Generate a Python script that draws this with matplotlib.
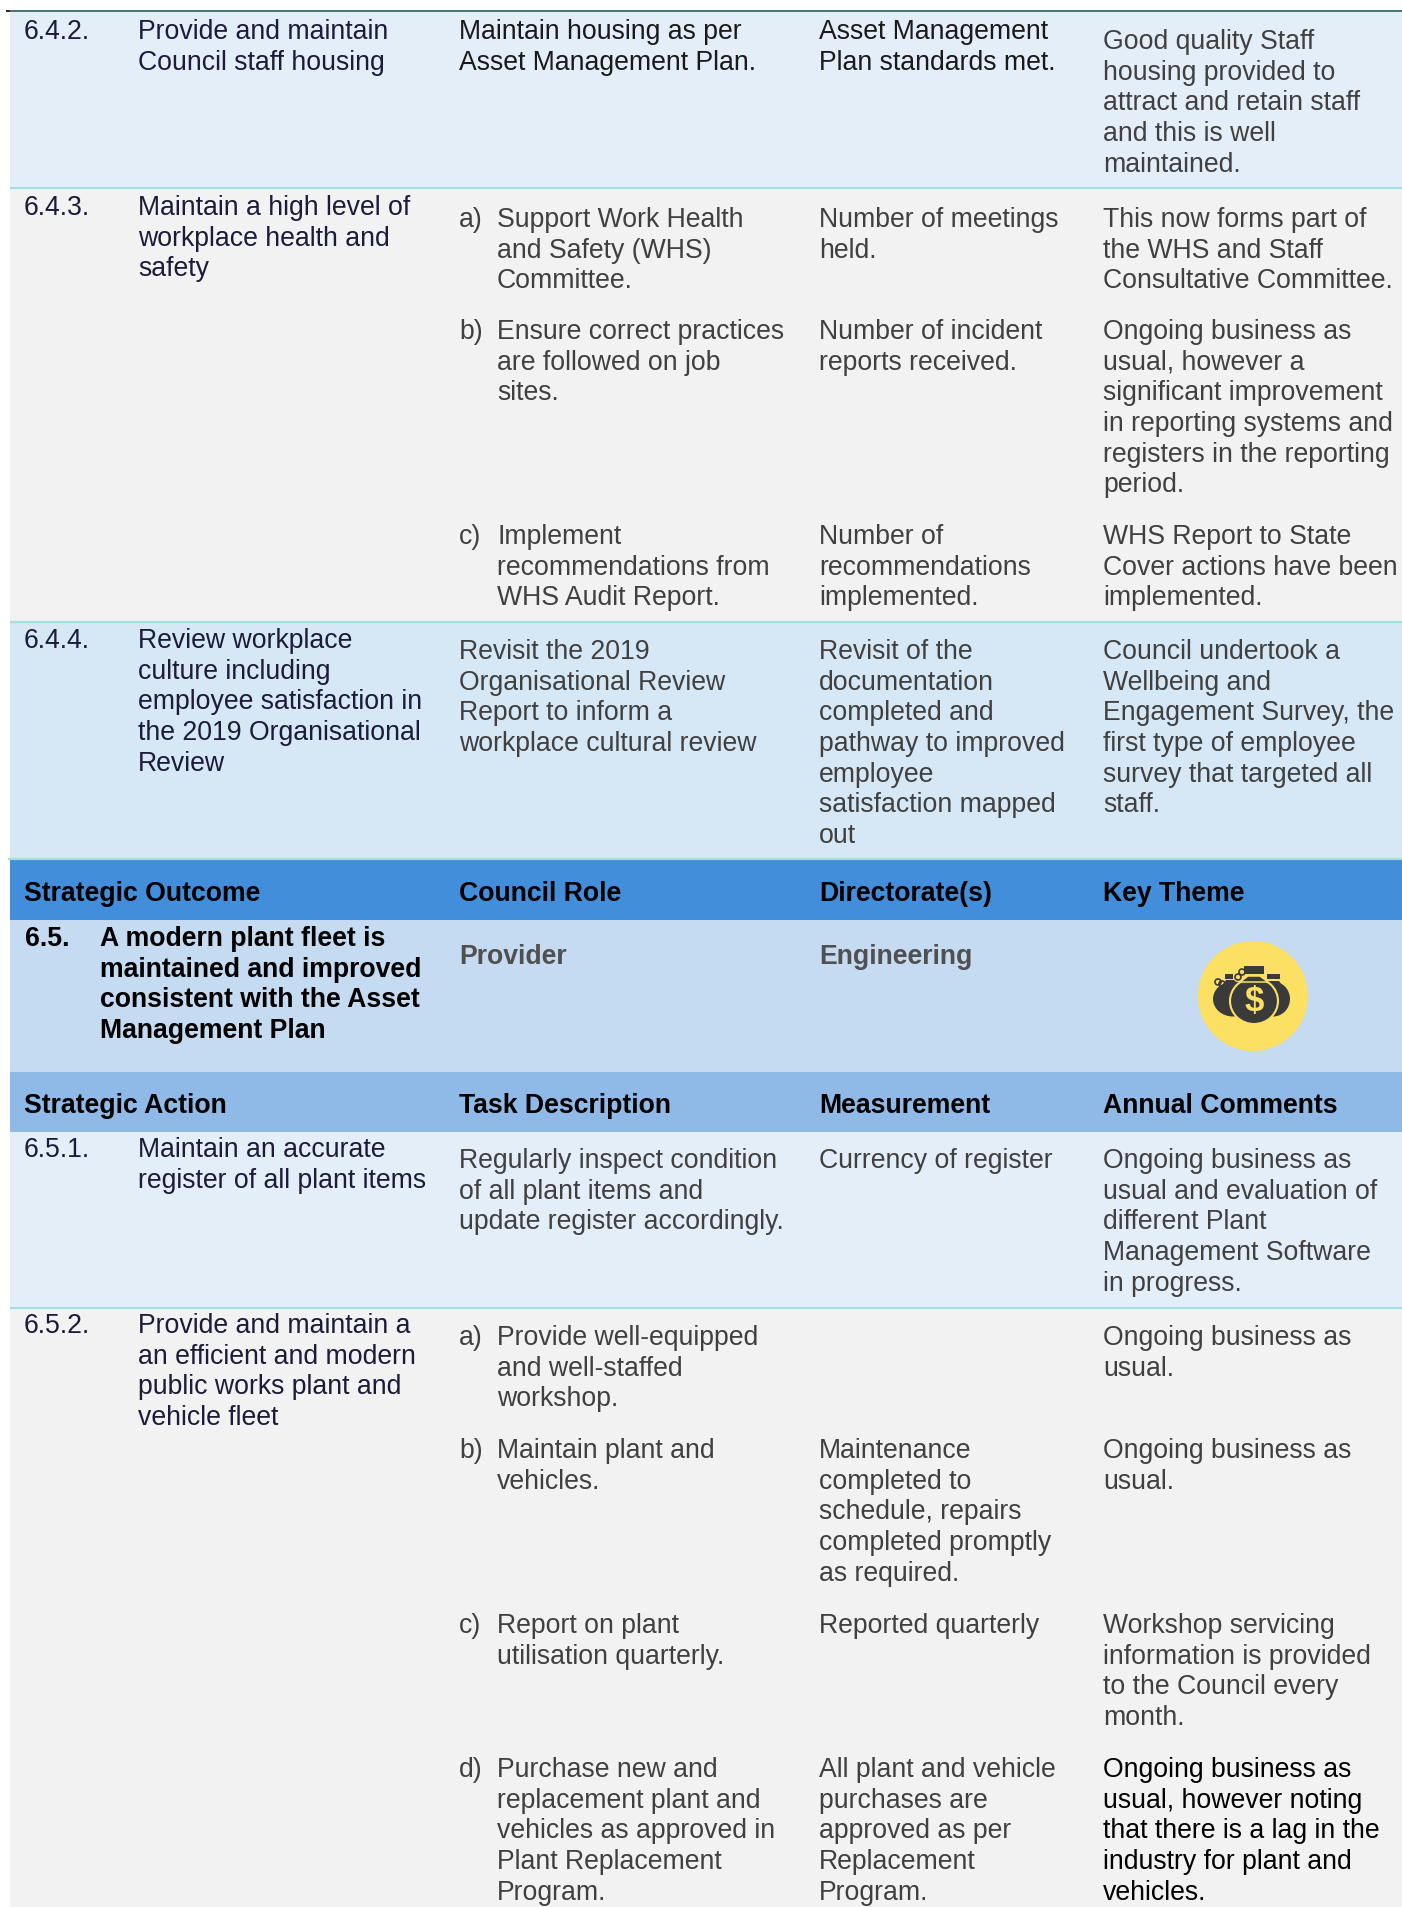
"""Council operational plan table page, redrawn as a figure."""
import matplotlib

matplotlib.use("Agg")

import matplotlib.pyplot as plt
from matplotlib.patches import Circle, Ellipse, Polygon, Rectangle

plt.rcParams["font.family"] = ["Liberation Sans", "DejaVu Sans"]

W, H = 1402, 1908
FS = 19.15
PITCH = 30.7

# background bands, top to bottom
band_edges = [13, 189, 623, 861, 921, 1073, 1133, 1309, 1908]
band_colors = ["#E3EEF9", "#F2F2F2", "#D6E8F5", "#438EDB", "#C5DBF2", "#8FBAE8", "#E3EEF9", "#F2F2F2"]
rule_rows = [189, 623, 860, 1309]

INK = "#1C1C3A"
GREY = "#404040"

outcome_headers = ["Strategic Outcome", "Council Role", "Directorate(s)", "Key Theme"]
action_headers = ["Strategic Action", "Task Description", "Measurement", "Annual Comments"]

outcome_no = "6.5."
outcome_text = "A modern plant fleet is\nmaintained and improved\nconsistent with the Asset\nManagement Plan"
council_role = "Provider"
directorate = "Engineering"

action_642 = "Provide and maintain\nCouncil staff housing"
task_642 = "Maintain housing as per\nAsset Management Plan."
meas_642 = "Asset Management\nPlan standards met."
comm_642 = "Good quality Staff\nhousing provided to\nattract and retain staff\nand this is well\nmaintained."

action_643 = "Maintain a high level of\nworkplace health and\nsafety"
task_643a = "Support Work Health\nand Safety (WHS)\nCommittee."
meas_643a = "Number of meetings\nheld."
comm_643a = "This now forms part of\nthe WHS and Staff\nConsultative Committee."
task_643b = "Ensure correct practices\nare followed on job\nsites."
meas_643b = "Number of incident\nreports received."
comm_643b = ("Ongoing business as\nusual, however a\nsignificant improvement\n"
             "in reporting systems and\nregisters in the reporting\nperiod.")
task_643c = "Implement\nrecommendations from\nWHS Audit Report."
meas_643c = "Number of\nrecommendations\nimplemented."
comm_643c = "WHS Report to State\nCover actions have been\nimplemented."

action_644 = "Review workplace\nculture including\nemployee satisfaction in\nthe 2019 Organisational\nReview"
task_644 = "Revisit the 2019\nOrganisational Review\nReport to inform a\nworkplace cultural review"
meas_644 = "Revisit of the\ndocumentation\ncompleted and\npathway to improved\nemployee\nsatisfaction mapped\nout"
comm_644 = ("Council undertook a\nWellbeing and\nEngagement Survey, the\nfirst type of employee\n"
            "survey that targeted all\nstaff.")

action_651 = "Maintain an accurate\nregister of all plant items"
task_651 = "Regularly inspect condition\nof all plant items and\nupdate register accordingly."
meas_651 = "Currency of register"
comm_651 = "Ongoing business as\nusual and evaluation of\ndifferent Plant\nManagement Software\nin progress."

action_652 = "Provide and maintain a\nan efficient and modern\npublic works plant and\nvehicle fleet"
task_652a = "Provide well-equipped\nand well-staffed\nworkshop."
comm_652a = "Ongoing business as\nusual."
task_652b = "Maintain plant and\nvehicles."
meas_652b = "Maintenance\ncompleted to\nschedule, repairs\ncompleted promptly\nas required."
comm_652b = "Ongoing business as\nusual."
task_652c = "Report on plant\nutilisation quarterly."
meas_652c = "Reported quarterly"
comm_652c = "Workshop servicing\ninformation is provided\nto the Council every\nmonth."
task_652d = "Purchase new and\nreplacement plant and\nvehicles as approved in\nPlant Replacement\nProgram."
meas_652d = "All plant and vehicle\npurchases are\napproved as per\nReplacement\nProgram."
comm_652d = "Ongoing business as\nusual, however noting\nthat there is a lag in the\nindustry for plant and\nvehicles."

# column left edges
X_NO, X_ACT, X_TASK, X_SUB, X_MEAS, X_COMM = 24, 138, 459, 497, 819, 1103

fig = plt.figure(figsize=(W / 100, H / 100), dpi=100, facecolor="white")
ax = fig.add_axes([0, 0, 1, 1])
ax.set_xlim(0, W)
ax.set_ylim(H, 0)
ax.axis("off")


def put(x, y, text, color=GREY, weight="normal"):
    # one Text per line so the baselines land where they do in the page
    for i, line in enumerate(text.split("\n")):
        ax.text(x, y + i * PITCH, line, fontsize=FS, color=color, weight=weight,
                ha="left", va="baseline")


for top, bot, col in zip(band_edges[:-1], band_edges[1:], band_colors):
    ax.add_patch(Rectangle((10, top), W - 10, bot - top, fc=col, ec="none", zorder=0))

for y in rule_rows:
    x0 = 8 if y == 860 else 10
    ax.plot([x0, W], [y, y], color="#A0E2DE", lw=1.6, zorder=1, solid_capstyle="butt")
ax.plot([10, W], [12, 12], color="#1F5C58", lw=1.2, zorder=1, solid_capstyle="butt")
ax.plot([6, 10], [12, 12], color="black", lw=1.2, zorder=1, solid_capstyle="butt")

for x, label in zip([X_NO + 0.5, X_TASK, X_MEAS, X_COMM], outcome_headers):
    put(x, 901, label, color="black", weight="bold")
for x, label in zip([X_NO + 0.5, X_TASK, X_MEAS, X_COMM], action_headers):
    put(x, 1113, label, color="black", weight="bold")

put(X_NO + 0.5, 946, outcome_no, color="black", weight="bold")
put(100, 946, outcome_text, color="black", weight="bold")
put(X_TASK, 964, council_role, color="#505050", weight="bold")
put(X_MEAS, 964, directorate, color="#505050", weight="bold")

# 6.4.2
put(X_NO, 39, "6.4.2.", INK)
put(X_ACT, 39, action_642, INK)
put(X_TASK, 39, task_642, "#1A1A1A")
put(X_MEAS, 39, meas_642, "#1A1A1A")
put(X_COMM, 49, comm_642)

# 6.4.3
put(X_NO, 215, "6.4.3.", INK)
put(X_ACT, 215, action_643, INK)
for label, y, task, meas, comm in [
    ("a)", 227, task_643a, meas_643a, comm_643a),
    ("b)", 339, task_643b, meas_643b, comm_643b),
    ("c)", 544, task_643c, meas_643c, comm_643c),
]:
    put(X_TASK, y, label)
    put(X_SUB, y, task)
    put(X_MEAS, y, meas)
    put(X_COMM, y, comm)

# 6.4.4
put(X_NO, 648, "6.4.4.", INK)
put(X_ACT, 648, action_644, INK)
put(X_TASK, 659, task_644)
put(X_MEAS, 659, meas_644)
put(X_COMM, 659, comm_644)

# 6.5.1
put(X_NO, 1157, "6.5.1.", INK)
put(X_ACT, 1157, action_651, INK)
put(X_TASK, 1168, task_651)
put(X_MEAS, 1168, meas_651)
put(X_COMM, 1168, comm_651)

# 6.5.2
put(X_NO, 1333, "6.5.2.", INK)
put(X_ACT, 1333, action_652, INK)
for label, y, task, meas, comm, comm_color in [
    ("a)", 1345, task_652a, "", comm_652a, GREY),
    ("b)", 1458, task_652b, meas_652b, comm_652b, GREY),
    ("c)", 1633, task_652c, meas_652c, comm_652c, GREY),
    ("d)", 1777, task_652d, meas_652d, comm_652d, "black"),
]:
    put(X_TASK, y, label)
    put(X_SUB, y, task)
    put(X_MEAS, y, meas)
    put(X_COMM, y, comm, comm_color)

# key theme badge: three money bags on a yellow disc
cx, cy = 1253, 997
YEL = "#FBE063"
BAG = "#3A3A3A"
ax.add_patch(Circle((cx, cy), 55, fc=YEL, ec="none", zorder=2))
for dx, rx in [(-20, 20), (20, 17)]:
    ax.add_patch(Ellipse((cx + dx, cy + 3), 2 * rx, 35, fc=BAG, ec="none", zorder=3))
ax.add_patch(Rectangle((cx - 28, cy - 22), 8, 5, fc=BAG, ec="none", zorder=3))
ax.add_patch(Polygon([(cx - 31, cy - 10), (cx - 14, cy - 10), (cx - 19, cy - 16), (cx - 27, cy - 16)],
                     fc=BAG, ec="none", zorder=3))
ax.add_patch(Rectangle((cx + 14, cy - 22), 13, 5, fc=BAG, ec="none", zorder=3))
ax.add_patch(Polygon([(cx + 12, cy - 11), (cx + 32, cy - 6), (cx + 26, cy - 15), (cx + 14, cy - 15)],
                     fc=BAG, ec="none", zorder=3))
for px, py in [(-35, -14), (-31, -12), (-15, -19), (-11, -24)]:
    ax.add_patch(Circle((cx + px, cy + py), 3, fc="none", ec=BAG, lw=1.2, zorder=3))
ax.add_patch(Ellipse((cx + 1, cy + 5), 48, 46, fc=BAG, ec=YEL, lw=1.5, zorder=4))
ax.add_patch(Polygon([(cx - 13, cy - 14), (cx + 15, cy - 14), (cx + 7, cy - 20), (cx - 5, cy - 20)],
                     fc=BAG, ec=YEL, lw=1.1, zorder=4))
ax.add_patch(Rectangle((cx - 9, cy - 30), 20, 8, fc=BAG, ec="none", zorder=5))
ax.text(cx + 1, cy + 14, "$", fontsize=25, weight="bold", color=YEL, ha="center", va="baseline", zorder=6)

fig.savefig("out.png", dpi=100, facecolor="white")
